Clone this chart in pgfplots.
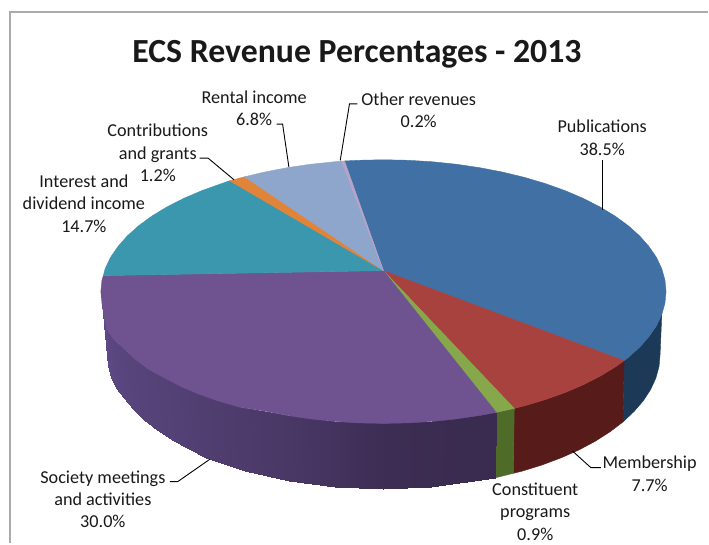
\documentclass[border=0pt]{standalone}
\usepackage{fontspec}
\setmainfont{Carlito}
\usepackage{pgfplots}
\pgfplotsset{compat=1.18}
\definecolor{pubtop}{HTML}{4170A5}
\definecolor{memtop}{HTML}{A8423F}
\definecolor{contop}{HTML}{86A84A}
\definecolor{soctop}{HTML}{6F5390}
\definecolor{inttop}{HTML}{3A97AD}
\definecolor{cgrtop}{HTML}{E0843A}
\definecolor{rentop}{HTML}{8FA6CC}
\definecolor{othtop}{HTML}{B7A3C8}
\definecolor{pubside}{HTML}{1C3A58}
\definecolor{memside}{HTML}{571C1A}
\definecolor{conside}{HTML}{4F6B28}
\definecolor{framegr}{HTML}{ABABAB}
\pgfplotsset{
  face/.style={fill=#1,draw=#1,line width=0.4pt,forget plot},
  lead/.style={draw=black,line width=0.9pt,forget plot},
}
\tikzset{lbl/.style={font=\fontsize{18.2}{22.4}\selectfont,text=black!90,align=center,inner sep=0pt}}
\begin{document}
\begin{tikzpicture}
\begin{axis}[
  scale only axis,
  width=709pt, height=544pt,
  xmin=0, xmax=709, ymin=0, ymax=544,
  y dir=reverse,
  enlargelimits=false,
  hide axis,
  clip=false,
  colormap={socside}{rgb255(0)=(58,43,80) rgb255(1)=(96,75,135)},
  point meta min=0, point meta max=1,
]
% page background, frame (left and top only)
\addplot[fill=white,draw=none,forget plot] coordinates {(0,0)(709,0)(709,544)(0,544)} -- cycle;
\addplot[draw=framegr,line width=2pt,forget plot] coordinates {(10.5,544)(10.5,12.5)(709,12.5)};

% side walls, right to left
\addplot[face=pubside] coordinates {(625,361.2)(629.1,358)(640.5,347.8)(649.9,337.1)(657.4,326.2)(662.7,314.9)
  (661,355)(660,366.8)(656.8,378.5)(651.6,390)(644.3,401.2)(635,412)(623.9,422.5)} -- cycle;
\addplot[face=memside] coordinates {(625,361.2)(615.8,367.7)(600.8,376.8)(584.1,385.3)(565.9,393.1)(546.3,400.1)(525.5,406.3)(515,409)
  (514,474)(522.5,471.9)(542.9,465.6)(562.1,458.4)(579.9,450.5)(596.2,441.8)(610.9,432.4)(623.9,422.5)} -- cycle;
\addplot[face=conside] coordinates {(515,409)(497,413)(496,478.5)(514,474)} -- cycle;
\addplot[patch,patch type=rectangle,shader=interp,point meta=explicit,forget plot] table[meta=m] {
x y m
497 413 0.00
433.1 422 0.02
432.1 488 0.02
496 478.5 0.00
433.1 422 0.02
384 424 0.08
384 490 0.08
432.1 488 0.02
384 424 0.08
334.9 422 0.25
335.9 488 0.25
384 490 0.08
334.9 422 0.25
287.2 416 0.40
289.3 481.9 0.40
335.9 488 0.25
287.2 416 0.40
241 408 0.50
245.5 471.9 0.50
289.3 481.9 0.40
241 408 0.50
200 395 0.60
205.9 458.4 0.60
245.5 471.9 0.50
200 395 0.60
164 378 0.68
172 440.5 0.68
205.9 458.4 0.60
164 378 0.68
149 370 0.72
157 431 0.72
172 440.5 0.68
149 370 0.72
135 359.5 0.76
144 420.5 0.76
157 431 0.72
135 359.5 0.76
123 348 0.80
133 410 0.80
144 420.5 0.76
123 348 0.80
114 340 0.84
123.7 399 0.84
133 410 0.80
114 340 0.84
107 330 0.88
116.4 388.5 0.88
123.7 399 0.84
107 330 0.88
104 316 0.92
111.2 378 0.92
116.4 388.5 0.88
104 316 0.92
102.1 303.5 0.96
108 366.8 0.96
111.2 378 0.92
102.1 303.5 0.96
101 292 1.00
107 355 1.00
108 366.8 0.96
};

% top face slices
\addplot[face=pubtop] coordinates {(384,271)(345,161.2)(359.3,160.5)(384,160)(408.7,160.5)(433.1,162)(457.2,164.5)(480.8,168)
  (503.6,172.4)(525.5,177.7)(546.3,183.9)(565.9,190.9)(584.1,198.7)(600.8,207.2)(615.8,216.3)(629.1,226)(640.5,236.2)
  (649.9,246.9)(657.4,257.8)(662.7,269.1)(665.9,280.5)(667,292)(665.9,303.5)(662.7,314.9)(657.4,326.2)(649.9,337.1)
  (640.5,347.8)(629.1,358)(625,361.2)} -- cycle;
\addplot[face=memtop] coordinates {(384,271)(625,361.2)(615.8,367.7)(600.8,376.8)(584.1,385.3)(565.9,393.1)(546.3,400.1)(525.5,406.3)(515,409)} -- cycle;
\addplot[face=contop] coordinates {(384,271)(515,409)(497,413)} -- cycle;
\addplot[face=soctop] coordinates {(384,271)(497,413)(480.8,416)(457.2,419.5)(433.1,422)(408.7,423.5)(384,424)(359.3,423.5)
  (334.9,422)(310.8,419.5)(287.2,416)(264.4,411.6)(241,408)(220,402)(200,395)(181,387)(164,378)
  (149,370)(135,359.5)(123,348)(114,340)(107,330)(104,316)(102.1,303.5)(101,292)(102.1,280.5)(103.5,276)} -- cycle;
\addplot[face=inttop] coordinates {(384,271)(103.5,276)(105.3,269.1)(110.6,257.8)(118.1,246.9)(127.5,236.2)(138.9,226)(152.2,216.3)
  (167.2,207.2)(183.9,198.7)(202.1,190.9)(221.7,183.9)(230,181)} -- cycle;
\addplot[face=cgrtop] coordinates {(384,271)(230,181)(242.5,177.7)(245,177)} -- cycle;
\addplot[face=rentop] coordinates {(384,271)(245,177)(264.4,172.4)(287.2,168)(310.8,164.5)(334.9,162)(342,161.4)} -- cycle;
\addplot[face=othtop] coordinates {(384,271)(342,161.4)(345,161.2)} -- cycle;

% leader lines
\addplot[lead] coordinates {(603.5,160)(603.5,210)};
\addplot[lead] coordinates {(358,104)(350,104)(340.7,160.7)};
\addplot[lead] coordinates {(277,124.3)(283,124.3)(289.3,167.3)};
\addplot[lead] coordinates {(200,158.3)(208.3,158.3)(234.3,180)};
\addplot[lead] coordinates {(573.3,451.7)(591.7,468.3)(601.7,468.3)};
\addplot[lead] coordinates {(170,482.3)(178,482.3)(210,460)};

% labels
\node[lbl] at (axis cs:357.5,54) {\fontsize{33.8}{36}\selectfont\bfseries ECS Revenue Percentages - 2013};
\node[lbl] at (axis cs:603,138) {Publications\\38.5\%};
\node[lbl] at (axis cs:419.3,110.5) {Other revenues\\0.2\%};
\node[lbl] at (axis cs:254.5,108.3) {Rental income\\6.8\%};
\node[lbl] at (axis cs:158,153) {Contributions\\and grants\\1.2\%};
\node[lbl] at (axis cs:84,204) {Interest and\\dividend income\\14.7\%};
\node[lbl] at (axis cs:650.5,474.5) {Membership\\7.7\%};
\node[lbl] at (axis cs:536,512.5) {Constituent\\programs\\0.9\%};
\node[lbl] at (axis cs:103,500) {Society meetings\\and activities\\30.0\%};
\end{axis}
\end{tikzpicture}
\end{document}
